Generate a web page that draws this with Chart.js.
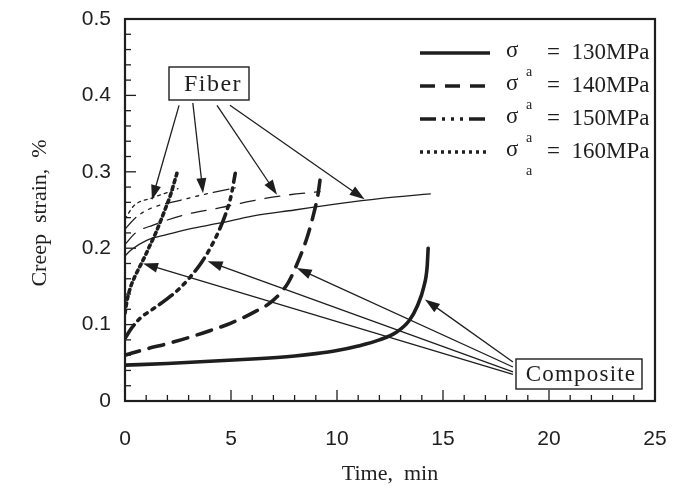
<!DOCTYPE html>
<html>
<head>
<meta charset="utf-8">
<script src="https://cdn.jsdelivr.net/npm/chart.js@4.4.1/dist/chart.umd.min.js"></script>
<style>
  html, body { margin: 0; padding: 0; background: #fff; }
  #wrap { width: 674px; height: 495px; }
</style>
</head>
<body>
<div id="wrap"><canvas id="creep" width="674" height="495"></canvas></div>
<script>
// creep strain vs time, composite (thick) and fiber (thin) curves

const xTicks = [0, 5, 10, 15, 20, 25];
const yTicks = [0, 0.1, 0.2, 0.3, 0.4, 0.5];

const stressLabels = ['130MPa', '140MPa', '150MPa', '160MPa'];

// composite curves
const comp130T = [0, 2, 4, 6, 8, 9, 10, 11, 12, 12.8, 13.4, 13.8, 14.1, 14.25, 14.3];
const comp130S = [0.047, 0.049, 0.052, 0.055, 0.059, 0.062, 0.066, 0.072, 0.080, 0.090, 0.105, 0.125, 0.150, 0.175, 0.200];
const comp140T = [0, 1, 2, 3, 4, 5, 6, 7, 7.7, 8.2, 8.6, 8.9, 9.1, 9.25];
const comp140S = [0.060, 0.068, 0.075, 0.083, 0.092, 0.102, 0.115, 0.132, 0.155, 0.185, 0.215, 0.245, 0.270, 0.300];
const comp150T = [0, 0.3, 0.7, 1.3, 2.0, 2.6, 3.1, 3.6, 4.0, 4.4, 4.75, 5.0, 5.2];
const comp150S = [0.082, 0.095, 0.108, 0.120, 0.134, 0.148, 0.163, 0.181, 0.199, 0.221, 0.245, 0.268, 0.298];
const comp160T = [0, 0.1, 0.25, 0.45, 0.7, 0.95, 1.2, 1.45, 1.7, 1.95, 2.15, 2.3, 2.45];
const comp160S = [0.115, 0.132, 0.148, 0.162, 0.176, 0.190, 0.205, 0.220, 0.237, 0.255, 0.270, 0.284, 0.298];

// fiber curves
const fib130T = [0, 0.3, 1, 2, 3, 4.5, 6, 8, 10, 12, 14.4];
const fib130S = [0.190, 0.198, 0.210, 0.218, 0.225, 0.233, 0.242, 0.250, 0.258, 0.265, 0.271];
const fib140T = [0, 0.5, 1.3, 3, 4.5, 6, 7.5, 9.2];
const fib140S = [0.205, 0.220, 0.230, 0.245, 0.253, 0.262, 0.269, 0.274];
const fib150T = [0, 0.5, 1.2, 2.5, 4, 5.2];
const fib150S = [0.225, 0.240, 0.252, 0.262, 0.272, 0.279];
const fib160T = [0, 0.4, 1.3, 2.0, 2.5];
const fib160S = [0.238, 0.255, 0.266, 0.273, 0.278];

// annotation arrows: [fromX, fromY, toX, toY] in data units
const fiberArrows = [
  [2.55, 0.387, 1.27, 0.263],
  [3.2, 0.390, 3.68, 0.272],
  [4.34, 0.387, 7.17, 0.270],
  [4.95, 0.387, 11.3, 0.264],
];
const compositeArrows = [
  [18.3, 0.035, 0.85, 0.180],
  [18.3, 0.038, 3.9, 0.183],
  [18.3, 0.0445, 8.1, 0.174],
  [18.3, 0.051, 14.15, 0.133],
];

const INK = '#1e1e1e';
const dashes = [[], [15, 10], [16, 6, 3, 6, 3, 6, 3, 6], [3, 4]];

const pts = (t, s) => t.map((v, i) => ({ x: v, y: s[i] }));

const curveSets = [
  [comp130T, comp130S, fib130T, fib130S],
  [comp140T, comp140S, fib140T, fib140S],
  [comp150T, comp150S, fib150T, fib150S],
  [comp160T, comp160S, fib160T, fib160S],
];

const datasets = [];
curveSets.forEach(([ct, cs, ft, fs], i) => {
  datasets.push({
    label: 'composite ' + stressLabels[i], data: pts(ct, cs),
    borderColor: INK, borderWidth: 3.6, borderDash: dashes[i], borderCapStyle: 'round',
    pointRadius: 0, showLine: true, cubicInterpolationMode: 'monotone',
  });
  datasets.push({
    label: 'fiber ' + stressLabels[i], data: pts(ft, fs),
    borderColor: INK, borderWidth: 1.3, borderDash: dashes[i], borderCapStyle: 'round',
    pointRadius: 0, showLine: true, cubicInterpolationMode: 'monotone',
  });
});

function arrow(ctx, x1, y1, x2, y2) {
  const a = Math.atan2(y2 - y1, x2 - x1);
  const len = 15, half = 5;
  ctx.beginPath();
  ctx.moveTo(x1, y1);
  ctx.lineTo(x2 - Math.cos(a) * len * 0.8, y2 - Math.sin(a) * len * 0.8);
  ctx.stroke();
  ctx.beginPath();
  ctx.moveTo(x2, y2);
  ctx.lineTo(x2 - Math.cos(a) * len - Math.sin(a) * half, y2 - Math.sin(a) * len + Math.cos(a) * half);
  ctx.lineTo(x2 - Math.cos(a) * len + Math.sin(a) * half, y2 - Math.sin(a) * len - Math.cos(a) * half);
  ctx.closePath();
  ctx.fill();
}

const overlay = {
  id: 'overlay',
  afterDraw(chart) {
    const ctx = chart.ctx;
    const xs = chart.scales.x, ys = chart.scales.y;
    const { left, right, top, bottom } = chart.chartArea;
    ctx.save();
    ctx.strokeStyle = INK;
    ctx.fillStyle = INK;

    // frame
    ctx.lineWidth = 2.2;
    ctx.strokeRect(left, top, right - left, bottom - top);

    // inward ticks
    ctx.lineWidth = 1.3;
    for (let v = 0; v <= 25; v++) {
      const px = xs.getPixelForValue(v);
      const len = v % 5 === 0 ? 11 : 6;
      ctx.beginPath(); ctx.moveTo(px, bottom); ctx.lineTo(px, bottom - len); ctx.stroke();
    }
    for (let k = 0; k <= 25; k++) {
      const py = ys.getPixelForValue(k * 0.02);
      const len = k % 5 === 0 ? 11 : 6;
      ctx.beginPath(); ctx.moveTo(left, py); ctx.lineTo(left + len, py); ctx.stroke();
    }

    // arrows
    ctx.lineWidth = 1.3;
    fiberArrows.concat(compositeArrows).forEach(([a, b, c, d]) => {
      arrow(ctx, xs.getPixelForValue(a), ys.getPixelForValue(b), xs.getPixelForValue(c), ys.getPixelForValue(d));
    });

    // label boxes
    ctx.textBaseline = 'middle';
    ctx.textAlign = 'center';
    ctx.lineWidth = 1.4;
    ctx.fillStyle = '#fff';
    ctx.fillRect(169, 67, 80, 33);
    ctx.strokeRect(169, 67, 80, 33);
    ctx.fillRect(516, 359, 126, 30);
    ctx.strokeRect(516, 359, 126, 30);
    ctx.fillStyle = INK;
    ctx.font = '24px "Liberation Serif"';
    ctx.letterSpacing = '1.5px';
    ctx.fillText('Fiber', 213, 85);
    ctx.font = '23px "Liberation Serif"';
    ctx.letterSpacing = '1.2px';
    ctx.fillText('Composite', 581, 375);

    // legend
    ctx.letterSpacing = '0px';
    ctx.textAlign = 'left';
    stressLabels.forEach((lab, i) => {
      const y = 53 + i * 33;
      ctx.lineWidth = 3.4;
      ctx.setLineDash(dashes[i]);
      ctx.beginPath(); ctx.moveTo(420, y); ctx.lineTo(490, y); ctx.stroke();
      ctx.setLineDash([]);
      ctx.font = '23px "Liberation Serif"';
      ctx.fillText('σ', 506, y - 2);
      ctx.fillText('=  ' + lab, 547, y);
      ctx.font = '14px "Liberation Serif"';
      ctx.fillText('a', 526, y + 19);
    });

    // axis titles
    ctx.font = '22px "Liberation Serif"';
    ctx.textAlign = 'center';
    ctx.fillText('Time,  min', 390, 474);
    ctx.translate(40, 213);
    ctx.rotate(-Math.PI / 2);
    ctx.fillText('Creep  strain,  %', 0, 0);
    ctx.restore();
  },
};

const zeroPad = s => { s.paddingLeft = 0; s.paddingRight = 0; s.paddingTop = 0; s.paddingBottom = 0; };

new Chart(document.getElementById('creep'), {
  type: 'scatter',
  data: { datasets },
  options: {
    responsive: false,
    animation: false,
    layout: { padding: { left: 0, right: 19, top: 19, bottom: 0 } },
    plugins: { legend: { display: false }, tooltip: { enabled: false } },
    scales: {
      x: {
        type: 'linear', min: 0, max: 25,
        afterBuildTicks: s => { s.ticks = xTicks.map(v => ({ value: v })); },
        afterFit: s => { s.height = 94; zeroPad(s); },
        grid: { display: false, drawTicks: false },
        border: { display: false },
        ticks: { color: INK, padding: 26, font: { family: 'Liberation Sans', size: 21 }, callback: v => String(v) },
      },
      y: {
        type: 'linear', min: 0, max: 0.5,
        afterBuildTicks: s => { s.ticks = yTicks.map(v => ({ value: v })); },
        afterFit: s => { s.width = 125; zeroPad(s); },
        grid: { display: false, drawTicks: false },
        border: { display: false },
        ticks: { color: INK, padding: 14, font: { family: 'Liberation Sans', size: 21 }, callback: v => v === 0 ? '0' : v.toFixed(1) },
      },
    },
  },
  plugins: [overlay],
});
</script>
</body>
</html>
